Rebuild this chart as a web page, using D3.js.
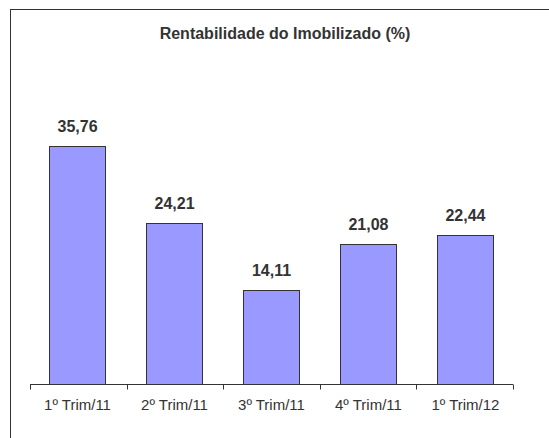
<!DOCTYPE html>
<html>
<head>
<meta charset="utf-8">
<script src="https://cdn.jsdelivr.net/npm/d3@7"></script>
<style>
  body { margin: 0; background: #fff; }
  svg { display: block; }
</style>
</head>
<body>
<div class="chart"></div>
<script>
var categories = ["1º Trim/11", "2º Trim/11", "3º Trim/11", "4º Trim/11", "1º Trim/12"];
var values = [35.76, 24.21, 14.11, 21.08, 22.44];
var labels = ["35,76", "24,21", "14,11", "21,08", "22,44"];
var title = "Rentabilidade do Imobilizado (%)";

var W = 549, H = 438;
var margin = {top: 118, bottom: 54, left: 30, right: 36};

var svg = d3.select(".chart")
  .append("svg")
  .attr("width", W)
  .attr("height", H);

// outer frame (cut off at right and bottom like the source)
svg.append("rect")
  .attr("x", 10.5)
  .attr("y", 9.5)
  .attr("width", 560)
  .attr("height", 460)
  .attr("fill", "none")
  .attr("stroke", "#333")
  .attr("stroke-width", 1);

svg.append("text")
  .attr("x", 285)
  .attr("y", 39)
  .attr("text-anchor", "middle")
  .style("font", "bold 16px 'Liberation Sans', Arial, sans-serif")
  .attr("fill", "#333")
  .text(title);

var xScale = d3.scaleBand()
  .domain(categories)
  .range([margin.left, W - margin.right])
  .paddingInner(0.42)
  .paddingOuter(0.2);

var yScale = d3.scaleLinear()
  .domain([0, 40])
  .range([H - margin.bottom, margin.top]);

svg.selectAll("rect.bar")
  .data(values)
  .enter()
  .append("rect")
  .attr("class", "bar")
  .attr("x", function(d, i) { return Math.round(xScale(categories[i])) + 0.5; })
  .attr("y", function(d) { return Math.round(yScale(d)) + 0.5; })
  .attr("width", Math.round(xScale.bandwidth()))
  .attr("height", function(d) { return Math.round(yScale(0)) - Math.round(yScale(d)); })
  .attr("fill", "#9999ff")
  .attr("stroke", "#333")
  .attr("stroke-width", 1);

svg.selectAll("text.val")
  .data(values)
  .enter()
  .append("text")
  .attr("class", "val")
  .attr("x", function(d, i) { return xScale(categories[i]) + xScale.bandwidth() / 2; })
  .attr("y", function(d) { return yScale(d) - 14; })
  .attr("text-anchor", "middle")
  .style("font", "bold 16px 'Liberation Sans', Arial, sans-serif")
  .attr("fill", "#333")
  .text(function(d, i) { return labels[i]; });

// category axis with ticks between categories
var axisY = Math.round(yScale(0)) + 0.5;
var x0 = margin.left, x1 = W - margin.right;
svg.append("line")
  .attr("x1", x0).attr("x2", x1)
  .attr("y1", axisY).attr("y2", axisY)
  .attr("stroke", "#333");

var tickPos = d3.range(categories.length + 1).map(function(i) { return x0 + i * (x1 - x0) / categories.length; });
svg.selectAll("line.tick")
  .data(tickPos)
  .enter()
  .append("line")
  .attr("class", "tick")
  .attr("x1", function(d) { return Math.round(d) + 0.5; })
  .attr("x2", function(d) { return Math.round(d) + 0.5; })
  .attr("y1", axisY).attr("y2", axisY + 5)
  .attr("stroke", "#333");

svg.selectAll("text.cat")
  .data(categories)
  .enter()
  .append("text")
  .attr("class", "cat")
  .attr("x", function(d) { return xScale(d) + xScale.bandwidth() / 2; })
  .attr("y", axisY + 25)
  .attr("text-anchor", "middle")
  .style("font", "15px 'Liberation Sans', Arial, sans-serif")
  .attr("fill", "#333")
  .text(function(d) { return d; });
</script>
</body>
</html>
